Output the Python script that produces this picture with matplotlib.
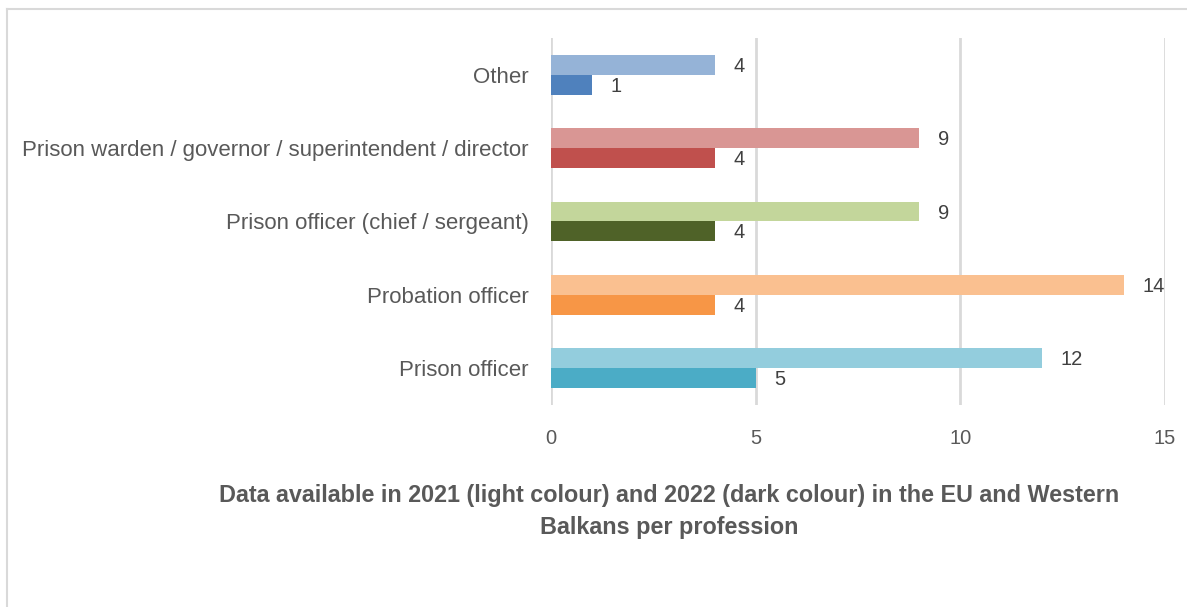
import matplotlib
matplotlib.use("Agg")
import matplotlib.pyplot as plt
from matplotlib.lines import Line2D
import numpy as np

# categories listed bottom to top
professions = ["Prison officer", "Probation officer", "Prison officer (chief / sergeant)",
               "Prison warden / governor / superintendent / director", "Other"]
data_2021 = [12, 14, 9, 9, 4]
data_2022 = [5, 4, 4, 4, 1]

light_colors = ["#93CDDD", "#FAC090", "#C3D69B", "#D99694", "#95B3D7"]
dark_colors = ["#4BACC6", "#F79646", "#4F6228", "#C0504D", "#4F81BD"]

plt.rcParams["font.family"] = ["Liberation Sans", "DejaVu Sans"]
text_grey = "#595959"

fig = plt.figure(figsize=(11.87, 6.07), dpi=100)
ax = fig.add_axes([0.4642, 0.3328, 0.5173, 0.6046])

y = np.arange(len(professions))
h = 0.27
ax.barh(y + h / 2, data_2021, height=h, color=light_colors, zorder=3)
ax.barh(y - h / 2, data_2022, height=h, color=dark_colors, zorder=3)

# value labels next to the bar ends
for yi, v in zip(y, data_2021):
    ax.text(v + 0.45, yi + h / 2 - 0.02, str(v), va="center", ha="left", fontsize=14.5, color="#404040")
for yi, v in zip(y, data_2022):
    ax.text(v + 0.45, yi - h / 2 - 0.02, str(v), va="center", ha="left", fontsize=14.5, color="#404040")

ax.set_xlim(0, 15)
ax.set_ylim(-0.5, 4.5)
ax.set_xticks([0, 5, 10, 15])
ax.set_yticks(y)
ax.set_yticklabels(professions, fontsize=16)
ax.tick_params(axis="both", length=0, labelcolor=text_grey)
ax.tick_params(axis="x", pad=17, labelsize=14.5)
ax.tick_params(axis="y", pad=16)
ax.grid(axis="x", color="#D9D9D9", linewidth=2, zorder=0)
for s in ax.spines.values():
    s.set_visible(False)

fig.text(0.564, 0.157, "Data available in 2021 (light colour) and 2022 (dark colour) in the EU and Western\nBalkans per profession",
         ha="center", va="center", fontsize=16.8, fontweight="bold", color=text_grey, linespacing=1.5)

# chart frame (partly cut off at the right and bottom)
fig.add_artist(Line2D([7 / 1187, 1.0], [1 - 9 / 607, 1 - 9 / 607], color="#D9D9D9", linewidth=1.5))
fig.add_artist(Line2D([7 / 1187, 7 / 1187], [0.0, 1 - 9 / 607], color="#D9D9D9", linewidth=1.5))

fig.savefig("out.png", dpi=100)
